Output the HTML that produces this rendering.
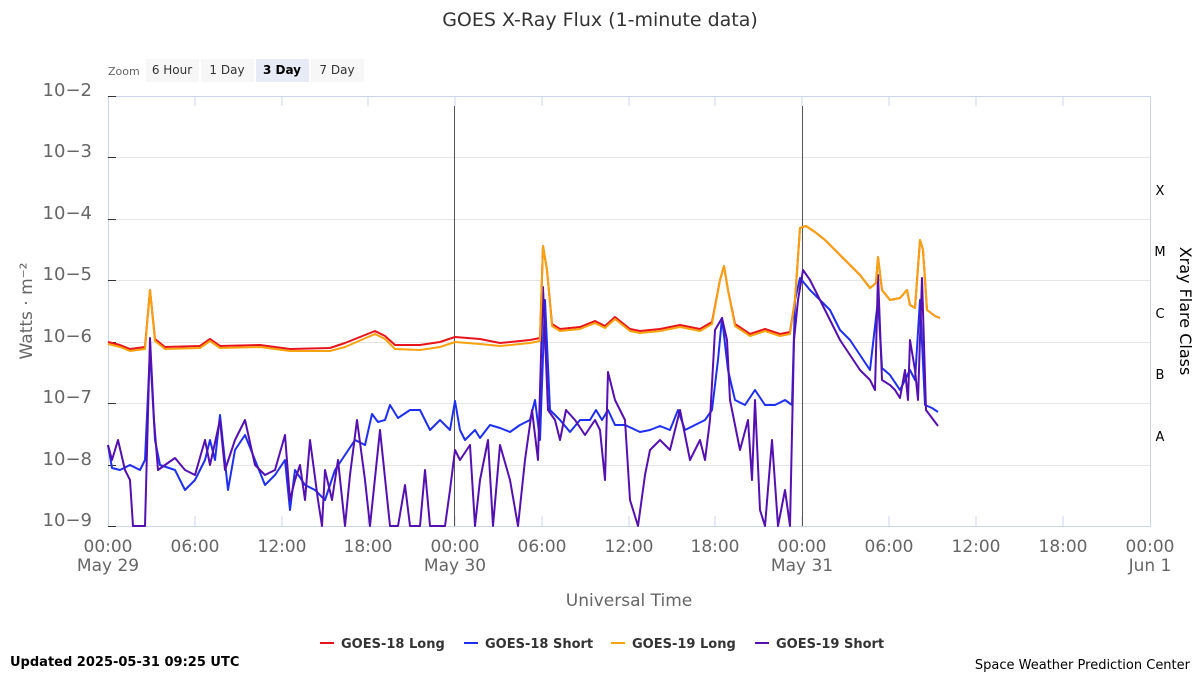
<!DOCTYPE html>
<html><head><meta charset="utf-8"><style>
body{margin:0;background:#fff;width:1200px;height:675px;overflow:hidden;font-family:"DejaVu Sans","Liberation Sans",sans-serif}
</style></head><body>
<svg width="1200" height="675" xmlns="http://www.w3.org/2000/svg" font-family="DejaVu Sans, Liberation Sans, sans-serif">
<text x="600" y="26" text-anchor="middle" font-size="19" fill="#333">GOES X-Ray Flux (1-minute data)</text>
<text x="108" y="75" font-size="11" fill="#666">Zoom</text>
<rect x="146" y="59" width="53" height="23" fill="#f7f7f7"/><text x="172" y="74" font-size="12" text-anchor="middle" fill="#333">6 Hour</text>
<rect x="201" y="59" width="53" height="23" fill="#f7f7f7"/><text x="227" y="74" font-size="12" text-anchor="middle" fill="#333">1 Day</text>
<rect x="256" y="59" width="53" height="23" fill="#e6ebf5"/><text x="282" y="74" font-size="12" text-anchor="middle" font-weight="bold" fill="#000">3 Day</text>
<rect x="311" y="59" width="53" height="23" fill="#f7f7f7"/><text x="337" y="74" font-size="12" text-anchor="middle" fill="#333">7 Day</text>
<g stroke="#e6e6e6" stroke-width="1">
<line x1="108" x2="1150" y1="157.5" y2="157.5"/><line x1="108" x2="1150" y1="219.5" y2="219.5"/><line x1="108" x2="1150" y1="280.5" y2="280.5"/><line x1="108" x2="1150" y1="342.5" y2="342.5"/><line x1="108" x2="1150" y1="403.5" y2="403.5"/><line x1="108" x2="1150" y1="465.5" y2="465.5"/>
</g>
<rect x="108.5" y="96.5" width="1042" height="430" fill="none" stroke="#ccd6eb"/>
<g stroke="#ccd6eb"><line x1="195" x2="195" y1="96" y2="106"/><line x1="282" x2="282" y1="96" y2="106"/><line x1="368" x2="368" y1="96" y2="106"/><line x1="455" x2="455" y1="96" y2="106"/><line x1="542" x2="542" y1="96" y2="106"/><line x1="629" x2="629" y1="96" y2="106"/><line x1="715" x2="715" y1="96" y2="106"/><line x1="802" x2="802" y1="96" y2="106"/><line x1="889" x2="889" y1="96" y2="106"/><line x1="976" x2="976" y1="96" y2="106"/><line x1="1063" x2="1063" y1="96" y2="106"/>
<line x1="195" x2="195" y1="516" y2="526"/><line x1="282" x2="282" y1="516" y2="526"/><line x1="368" x2="368" y1="516" y2="526"/><line x1="455" x2="455" y1="516" y2="526"/><line x1="542" x2="542" y1="516" y2="526"/><line x1="629" x2="629" y1="516" y2="526"/><line x1="715" x2="715" y1="516" y2="526"/><line x1="802" x2="802" y1="516" y2="526"/><line x1="889" x2="889" y1="516" y2="526"/><line x1="976" x2="976" y1="516" y2="526"/><line x1="1063" x2="1063" y1="516" y2="526"/></g>
<g stroke="#333" stroke-width="1"><line x1="108" x2="116" y1="96.5" y2="96.5"/><line x1="108" x2="116" y1="157.5" y2="157.5"/><line x1="108" x2="116" y1="219.5" y2="219.5"/><line x1="108" x2="116" y1="280.5" y2="280.5"/><line x1="108" x2="116" y1="342.5" y2="342.5"/><line x1="108" x2="116" y1="403.5" y2="403.5"/><line x1="108" x2="116" y1="465.5" y2="465.5"/><line x1="108" x2="116" y1="526.5" y2="526.5"/></g>
<g font-size="18" fill="#666" text-anchor="end">
<text x="92" y="96">10−2</text><text x="92" y="157">10−3</text><text x="92" y="219">10−4</text><text x="92" y="280">10−5</text><text x="92" y="342">10−6</text><text x="92" y="403">10−7</text><text x="92" y="465">10−8</text><text x="92" y="526">10−9</text></g>
<text transform="translate(32,311) rotate(-90)" text-anchor="middle" font-size="17" fill="#666">Watts · m⁻²</text>
<g font-size="13" fill="#000" text-anchor="middle"><text x="1160" y="195">X</text><text x="1160" y="256">M</text><text x="1160" y="318">C</text><text x="1160" y="379">B</text><text x="1160" y="441">A</text></g>
<text transform="translate(1180,311) rotate(90)" text-anchor="middle" font-size="16" fill="#000">Xray Flare Class</text>
<g font-size="17" fill="#666" text-anchor="middle">
<text x="108" y="552">00:00</text><text x="108" y="571">May 29</text><text x="195" y="552">06:00</text><text x="282" y="552">12:00</text><text x="368" y="552">18:00</text>
<text x="455" y="552">00:00</text><text x="455" y="571">May 30</text><text x="542" y="552">06:00</text><text x="629" y="552">12:00</text><text x="715" y="552">18:00</text>
<text x="802" y="552">00:00</text><text x="802" y="571">May 31</text><text x="889" y="552">06:00</text><text x="976" y="552">12:00</text><text x="1063" y="552">18:00</text>
<text x="1150" y="552">00:00</text><text x="1150" y="571">Jun 1</text></g>
<text x="629" y="606" text-anchor="middle" font-size="17" fill="#666">Universal Time</text>
<line x1="454.5" x2="454.5" y1="106" y2="526" stroke="#555"/><line x1="802.5" x2="802.5" y1="106" y2="526" stroke="#555"/>
<g fill="none" stroke-width="2" stroke-linejoin="round">
<polyline stroke="#1f2ff0" points="108,445 112,468 120,470 130,465 140,470 145,460 150,350 155,440 160,465 175,470 185,490 195,480 205,460 210,440 215,460 220,415 228,490 235,450 245,435 255,460 265,485 275,475 285,460 290,510 295,470 305,485 315,490 325,500 335,470 345,455 355,440 365,445 372,414 378,422 385,420 390,405 398,418 410,410 420,410 430,430 440,420 450,430 455,401 460,430 465,440 470,435 475,430 480,438 490,425 500,428 510,432 520,425 530,420 535,400 540,440 545,300 550,410 560,420 570,432 580,420 590,420 596,410 602,420 608,410 615,425 625,425 640,432 650,430 660,426 670,430 678,410 685,430 695,425 705,420 712,410 718,360 722,318 728,370 735,400 745,405 755,390 765,405 775,405 785,400 792,405 795,300 800,278 810,290 820,300 830,310 840,330 850,340 860,355 870,370 878,300 882,368 890,375 900,390 905,380 910,370 915,380 920,300 925,405 932,408 938,412"/>
<polyline stroke="#5510b0" points="108,445 112,460 118,440 125,470 130,480 133,526 145,526 150,338 154,420 158,470 165,465 175,458 185,470 195,475 205,440 210,465 220,420 225,470 235,440 245,420 255,465 265,475 275,470 285,435 290,500 295,480 300,465 305,500 310,440 318,500 322,526 325,470 332,500 338,460 345,526 350,475 357,420 365,480 370,526 380,430 390,526 398,526 405,485 410,526 420,526 425,470 430,526 445,526 450,490 455,450 460,460 470,445 475,526 480,480 488,440 493,526 500,445 510,480 518,526 525,460 532,410 538,460 543,287 548,410 555,420 560,440 566,410 575,420 585,435 595,420 600,430 605,480 608,372 615,400 625,420 630,500 638,526 645,475 650,450 660,440 670,450 680,410 690,460 700,440 705,460 710,420 715,330 722,318 727,340 730,400 740,450 748,420 752,480 755,400 760,510 765,526 772,440 778,526 785,490 790,526 794,340 798,300 803,270 810,280 820,300 830,320 840,340 850,355 860,370 870,380 875,390 878,275 882,380 890,385 895,390 900,398 905,370 908,400 910,340 915,370 918,400 922,278 926,410 932,418 938,426"/>
<polyline stroke="#e8141b" points="108,342 120,345 130,349 145,347 150,290 155,339 165,347 200,346 210,339 220,346 260,345 290,349 330,348 345,343 375,331 385,336 395,345 420,345 440,342 455,337 480,339 500,343 530,340 540,338 543,246 547,270 552,324 560,329 580,327 595,321 605,326 615,317 630,329 640,331 660,329 680,325 700,329 712,322 720,280 724,266 728,290 735,324 750,334 765,329 780,334 790,332 795,300 800,228 806,226 815,232 825,240 840,255 860,275 870,288 876,283 878,257 882,290 890,300 900,298 907,290 910,305 915,308 920,240 923,250 927,310 935,316 940,318"/>
<polyline stroke="#f7a20f" points="108,344 120,347 130,351 145,349 150,290 155,341 165,349 200,348 210,341 220,348 260,347 290,351 330,351 345,347 375,334 385,339 395,349 420,350 440,347 455,342 480,344 500,346 530,343 540,341 543,246 547,270 552,326 560,331 580,329 595,323 605,328 615,319 630,331 640,333 660,331 680,327 700,331 712,324 720,280 724,266 728,290 735,326 750,336 765,331 780,336 790,334 795,300 800,228 806,226 815,232 825,240 840,255 860,275 870,288 876,283 878,257 882,290 890,300 900,298 907,290 910,305 915,308 920,240 923,250 927,310 935,316 940,318"/>
</g>
<g font-size="13" fill="#333" font-weight="bold">
<line x1="320" x2="334" y1="643" y2="643" stroke="#e8141b" stroke-width="2"/><text x="341" y="648">GOES-18 Long</text>
<line x1="464" x2="478" y1="643" y2="643" stroke="#1f2ff0" stroke-width="2"/><text x="485" y="648">GOES-18 Short</text>
<line x1="611" x2="625" y1="643" y2="643" stroke="#f7a20f" stroke-width="2"/><text x="632" y="648">GOES-19 Long</text>
<line x1="755" x2="769" y1="643" y2="643" stroke="#5510b0" stroke-width="2"/><text x="776" y="648">GOES-19 Short</text>
</g>
<text x="10" y="666" font-size="13" font-weight="bold" fill="#000">Updated 2025-05-31 09:25 UTC</text>
<text x="1190" y="669" font-size="13" fill="#000" text-anchor="end">Space Weather Prediction Center</text>
</svg>
</body></html>
